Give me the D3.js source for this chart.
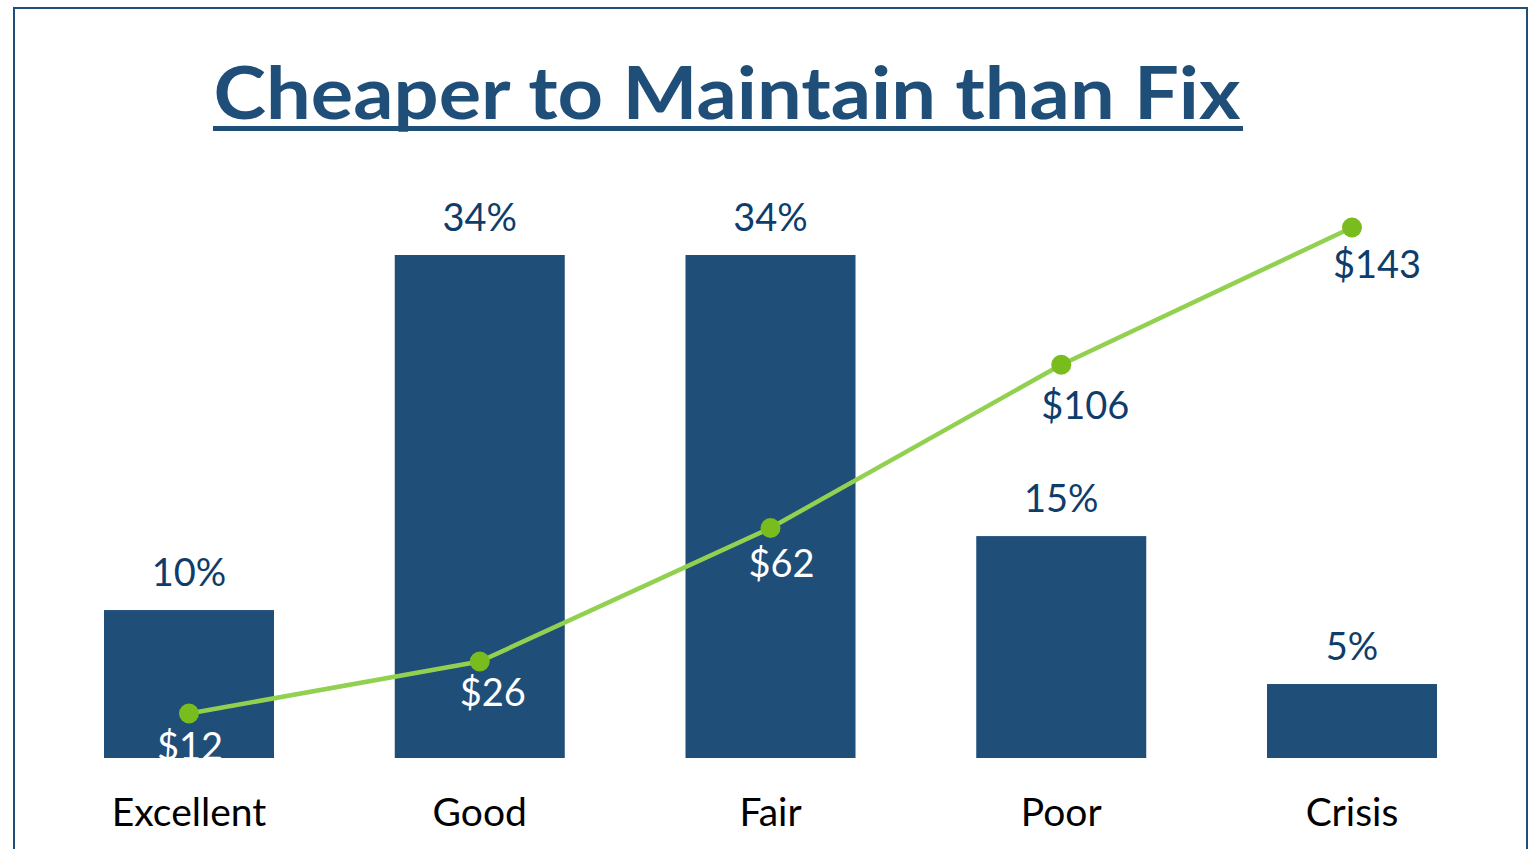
<!DOCTYPE html>
<html>
<head>
<meta charset="utf-8">
<script src="https://cdn.jsdelivr.net/npm/d3@7"></script>
<style>
  html, body { margin: 0; padding: 0; background: #ffffff; }
  svg { display: block; }
</style>
</head>
<body>
<svg id="chart" width="1532" height="849"></svg>
<script>
const categories = ["Excellent", "Good", "Fair", "Poor", "Crisis"];
const shareValues = [10, 34, 34, 15, 5];          // percent of assets
const costValues = [12, 26, 62, 106, 143];         // cost in $
const shareLabels = ["10%", "34%", "34%", "15%", "5%"];
const costLabels = ["$12", "$26", "$62", "$106", "$143"];
const titleText = "Cheaper to Maintain than Fix";

// style config: offsets of cost labels relative to their points
const costLabelDx = [1, 13, 11, 24, 25];
const costLabelDy = [47, 44, 49, 54, 50];
const costLabelOnBar = [true, true, true, false, false];

const W = 1532, H = 849;
const svg = d3.select("#chart");
const FONT = "Lato, 'Open Sans', sans-serif";
const navy = "#1F4E79";
const labelBlue = "#0F3D6B";
const green = "#92D050";
const greenDot = "#78BC1E";

// frame
svg.append("rect")
  .attr("x", 14).attr("y", 8)
  .attr("width", 1513).attr("height", 900)
  .attr("fill", "none").attr("stroke", navy).attr("stroke-width", 2);

// title
svg.append("text")
  .attr("x", 727).attr("y", 119)
  .attr("text-anchor", "middle")
  .attr("font-family", FONT)
  .attr("font-weight", 700)
  .attr("font-size", 72)
  .attr("fill", navy)
  .attr("textLength", 1027)
  .attr("lengthAdjust", "spacingAndGlyphs")
  .text(titleText);
svg.append("rect")
  .attr("x", 213).attr("y", 126).attr("width", 1030).attr("height", 5)
  .attr("fill", navy);

// scales
const baseY = 758;
const yBar = d3.scaleLinear().domain([0, 34]).range([baseY, 255]);
const yCost = d3.scaleLinear().domain([0, 143]).range([baseY, 227.5]);

const step = 290.75, bw = 170;
const band = d3.scaleBand().domain(categories)
  .range([104 - (step - bw) / 2, 104 - (step - bw) / 2 + step * 5])
  .paddingInner((step - bw) / step)
  .paddingOuter((step - bw) / step / 2);
const cx = d => band(d) + band.bandwidth() / 2;

// bars
svg.append("g").selectAll("rect")
  .data(categories)
  .join("rect")
  .attr("x", d => band(d))
  .attr("width", band.bandwidth())
  .attr("y", (d, i) => yBar(shareValues[i]))
  .attr("height", (d, i) => baseY - yBar(shareValues[i]))
  .attr("fill", navy);

// share labels
svg.append("g").selectAll("text")
  .data(categories)
  .join("text")
  .attr("x", d => cx(d))
  .attr("y", (d, i) => yBar(shareValues[i]) - 24)
  .attr("text-anchor", "middle")
  .attr("font-family", FONT)
  .attr("font-size", 38)
  .attr("fill", labelBlue)
  .text((d, i) => shareLabels[i]);

// category labels
svg.append("g").selectAll("text")
  .data(categories)
  .join("text")
  .attr("x", d => cx(d))
  .attr("y", 826)
  .attr("text-anchor", "middle")
  .attr("font-family", FONT)
  .attr("font-size", 39)
  .attr("fill", "#000000")
  .text(d => d);

// line
const pts = categories.map((d, i) => [cx(d), yCost(costValues[i])]);
svg.append("path")
  .attr("d", d3.line()(pts))
  .attr("fill", "none")
  .attr("stroke", green)
  .attr("stroke-width", 4.5)
  .attr("stroke-linejoin", "round");

// markers
svg.append("g").selectAll("circle")
  .data(pts)
  .join("circle")
  .attr("cx", d => d[0]).attr("cy", d => d[1])
  .attr("r", 10)
  .attr("fill", greenDot);

// cost labels (clipped at the baseline like the original)
svg.append("defs").append("clipPath").attr("id", "plotclip")
  .append("rect").attr("x", 0).attr("y", 0).attr("width", W).attr("height", baseY);

svg.append("g").attr("clip-path", "url(#plotclip)").selectAll("text")
  .data(categories)
  .join("text")
  .attr("x", (d, i) => cx(d) + costLabelDx[i])
  .attr("y", (d, i) => yCost(costValues[i]) + costLabelDy[i])
  .attr("text-anchor", "middle")
  .attr("font-family", FONT)
  .attr("font-size", 38)
  .attr("fill", (d, i) => costLabelOnBar[i] ? "#ffffff" : labelBlue)
  .text((d, i) => costLabels[i]);
</script>
</body>
</html>
